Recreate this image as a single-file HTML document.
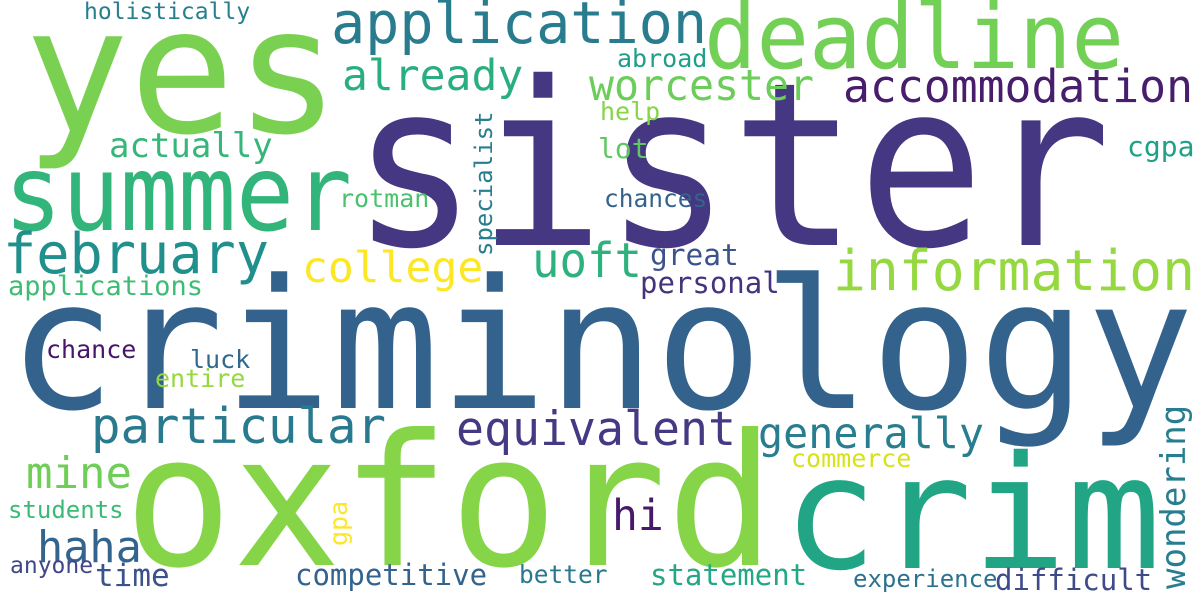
<!DOCTYPE html>
<html><head><meta charset="utf-8">
<style>
html,body{margin:0;padding:0;background:#fff;}
svg{display:block;}
text{font-family:"DejaVu Sans Mono","Liberation Mono",monospace;}
</style></head>
<body>
<svg width="1200" height="600" viewBox="0 0 1200 600">
<rect width="1200" height="600" fill="#ffffff"/>
<text x="8" y="408" font-size="180" textLength="1186" lengthAdjust="spacingAndGlyphs" fill="#33638d">criminology</text>
<text x="351" y="245" font-size="228" textLength="760" lengthAdjust="spacingAndGlyphs" fill="#453781">sister</text>
<text x="124" y="565" font-size="183" textLength="651" lengthAdjust="spacingAndGlyphs" fill="#86d549">oxford</text>
<text x="24" y="132" font-size="175" fill="#7ad151">yes</text>
<text x="783" y="568" font-size="157" fill="#21a585">crim</text>
<text x="704" y="68" font-size="90" textLength="420" lengthAdjust="spacingAndGlyphs" fill="#73d056">deadline</text>
<text x="4" y="230" font-size="105" textLength="348" lengthAdjust="spacingAndGlyphs" fill="#32b57a">summer</text>
<text x="331" y="43" font-size="58" textLength="376" lengthAdjust="spacingAndGlyphs" fill="#297b8e">application</text>
<text x="3" y="273" font-size="56" textLength="266" lengthAdjust="spacingAndGlyphs" fill="#21908d">february</text>
<text x="833" y="290" font-size="56" textLength="362" lengthAdjust="spacingAndGlyphs" fill="#95d840">information</text>
<text x="91" y="443" font-size="49" fill="#297a8e">particular</text>
<text x="456" y="445" font-size="47.5" textLength="280" lengthAdjust="spacingAndGlyphs" fill="#443a83">equivalent</text>
<text x="843" y="102" font-size="45.5" textLength="350" lengthAdjust="spacingAndGlyphs" fill="#471d6c">accommodation</text>
<text x="589" y="100" font-size="43" textLength="225" lengthAdjust="spacingAndGlyphs" fill="#6ccd5a">worcester</text>
<text x="342" y="90" font-size="43" fill="#29af7f">already</text>
<text x="302" y="282" font-size="43" fill="#fde725">college</text>
<text x="758" y="448" font-size="43" textLength="226" lengthAdjust="spacingAndGlyphs" fill="#287d8e">generally</text>
<text x="532" y="277" font-size="48" textLength="110" lengthAdjust="spacingAndGlyphs" fill="#2db27d">uoft</text>
<text x="26" y="488" font-size="44" fill="#6ece58">mine</text>
<text x="37" y="562" font-size="43.5" fill="#32648e">haha</text>
<text x="612" y="530" font-size="43" fill="#48186a">hi</text>
<text x="109" y="157" font-size="34" fill="#35b779">actually</text>
<text x="95" y="586" font-size="31" fill="#3b528b">time</text>
<text x="295" y="585" font-size="29" fill="#33638d">competitive</text>
<text x="650" y="585" font-size="29" fill="#22a884">statement</text>
<text x="995" y="590" font-size="29" fill="#3e4a89">difficult</text>
<text x="650" y="265" font-size="29.5" fill="#3b528b">great</text>
<text x="640" y="293" font-size="29" fill="#46337e">personal</text>
<text x="598" y="158" font-size="28" fill="#5ec962">lot</text>
<text x="1127" y="156" font-size="28" fill="#1fa187">cgpa</text>
<text x="8" y="295" font-size="27" fill="#3fbc73">applications</text>
<text x="84" y="19" font-size="23" fill="#277f8e">holistically</text>
<text x="339" y="207" font-size="25" fill="#4ac16d">rotman</text>
<text x="617" y="67" font-size="25" fill="#1f9e89">abroad</text>
<text x="600" y="120" font-size="25" fill="#86d549">help</text>
<text x="604" y="207" font-size="24.5" fill="#33638d">chances</text>
<text x="46" y="358" font-size="25" fill="#481668">chance</text>
<text x="190" y="368" font-size="25" fill="#31688e">luck</text>
<text x="155" y="387" font-size="25" fill="#95d840">entire</text>
<text x="8" y="518" font-size="24" fill="#3aba76">students</text>
<text x="10" y="573" font-size="23" fill="#404688">anyone</text>
<text x="519" y="583" font-size="24.5" fill="#2a788e">better</text>
<text x="791" y="467" font-size="25" fill="#d8e219">commerce</text>
<text x="853" y="587" font-size="24" fill="#2c728e">experience</text>
<text x="0" y="0" font-size="24" fill="#287d8e" transform="translate(492,256) rotate(-90)">specialist</text>
<text x="0" y="0" font-size="25" fill="#fde725" transform="translate(347,546) rotate(-90)">gpa</text>
<text x="0" y="0" font-size="34" fill="#287d8e" transform="translate(1185,589) rotate(-90)">wondering</text>
</svg>
</body></html>
